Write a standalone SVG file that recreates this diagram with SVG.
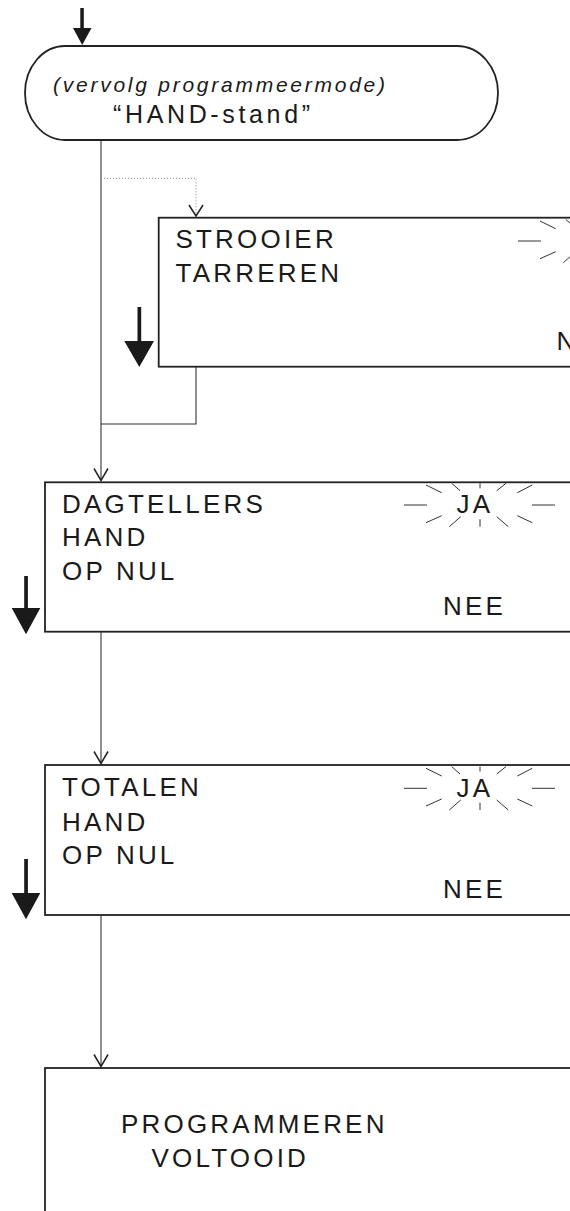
<svg xmlns="http://www.w3.org/2000/svg" width="570" height="1211" viewBox="0 0 570 1211">
<style>
.box{fill:#fff;stroke:#222;stroke-width:1.8}
.t{font-family:"Liberation Sans",Arial,sans-serif;font-size:26px;letter-spacing:3.2px;fill:#1a1a1a}
.it{font-family:"Liberation Sans",Arial,sans-serif;font-size:21px;font-style:italic;fill:#1a1a1a}
.hs{font-family:"Liberation Sans",Arial,sans-serif;font-size:25px;fill:#1a1a1a}
.con{fill:none;stroke:#333;stroke-width:1.1}
.dot{fill:none;stroke:#888;stroke-width:1;stroke-dasharray:1 2}
.thick{fill:#1a1a1a;stroke:none}
.ray{fill:none;stroke:#333;stroke-width:1}
</style>
<defs>
<marker id="open" markerUnits="userSpaceOnUse" markerWidth="20" markerHeight="20" viewBox="-15 -10 20 20" refX="0" refY="0" orient="auto" overflow="visible">
<path d="M-12,-7 L0,0 L-12,7" fill="none" stroke="#222" stroke-width="1.5"/>
</marker>
<path id="rays" class="ray" d="M-76 0H-53 M52 0H75 M0 -21.7V-16.7 M0 14.3V21.7 M-54 -20L-38.3 -12.3 M-28.3 -21.7L-20 -14.3 M16.7 -14.3L26 -21.7 M37.3 -12.3L52.3 -20 M-54 17.7L-38.3 10.7 M-30.7 21.7L-19.3 11.7 M16.7 11.7L28.3 21.7 M37.3 10.7L52.3 17.7"/>
</defs>

<g id="connectors">
<path class="con" d="M101 140V480.5" marker-end="url(#open)"/>
<path class="dot" d="M101 178.3H196V216"/>
<path d="M189,205 L196,216 L203,205" fill="none" stroke="#222" stroke-width="1.5"/>
<path class="con" d="M196 367V424H101"/>
<path class="con" d="M101 632V763.5" marker-end="url(#open)"/>
<path class="con" d="M101 915V1066.5" marker-end="url(#open)"/>
</g>

<g id="start-arrow">
<path class="thick" d="M80.3 8H83.8V29H80.3Z M73 28H91.5L82.2 45Z"/>
</g>

<g id="terminal">
<path class="box" stroke-width="1.2" d="M65 46H457A41 47 0 0 1 457 140H65A40 47 0 0 1 65 46Z"/>
<text class="it" x="53" y="91.5" textLength="332" lengthAdjust="spacing">(vervolg programmeermode)</text>
<text class="hs" x="113" y="122.7" textLength="197" lengthAdjust="spacing">“HAND-stand”</text>
</g>

<g id="strooier">
<rect class="box" x="158.7" y="217.7" width="430" height="149"/>
<text class="t" x="175.5" y="248.3">STROOIER</text>
<text class="t" x="175.5" y="281.7">TARREREN</text>
<use href="#rays" x="594" y="241"/>
<text class="t" x="556.5" y="350">NEE</text>
<path class="thick" d="M137.5 307H141.2V342H137.5Z M124.3 341H154L139.3 367Z"/>
</g>

<g id="dagtellers">
<rect class="box" x="45" y="482.3" width="540" height="149.4"/>
<text class="t" x="62" y="513.3">DAGTELLERS</text>
<text class="t" x="62" y="546.3">HAND</text>
<text class="t" x="62" y="580">OP NUL</text>
<use href="#rays" x="480" y="505"/>
<text class="t" x="456.5" y="512.7">JA</text>
<text class="t" x="443" y="615">NEE</text>
<path class="thick" d="M24.2 576H27.9V609H24.2Z M11.7 608H40.3L26 634.3Z"/>
</g>

<g id="totalen">
<rect class="box" x="45" y="765" width="540" height="150"/>
<text class="t" x="62" y="796">TOTALEN</text>
<text class="t" x="62" y="830.5">HAND</text>
<text class="t" x="62" y="864.3">OP NUL</text>
<use href="#rays" x="480" y="788.3"/>
<text class="t" x="456.5" y="796.7">JA</text>
<text class="t" x="443" y="898.3">NEE</text>
<path class="thick" d="M24.2 859H27.9V894H24.2Z M11.7 893H40.3L26 919.3Z"/>
</g>

<g id="voltooid">
<rect class="box" x="45" y="1068" width="540" height="200"/>
<text class="t" x="121" y="1132.7">PROGRAMMEREN</text>
<text class="t" x="151.5" y="1166.7">VOLTOOID</text>
</g>
</svg>
